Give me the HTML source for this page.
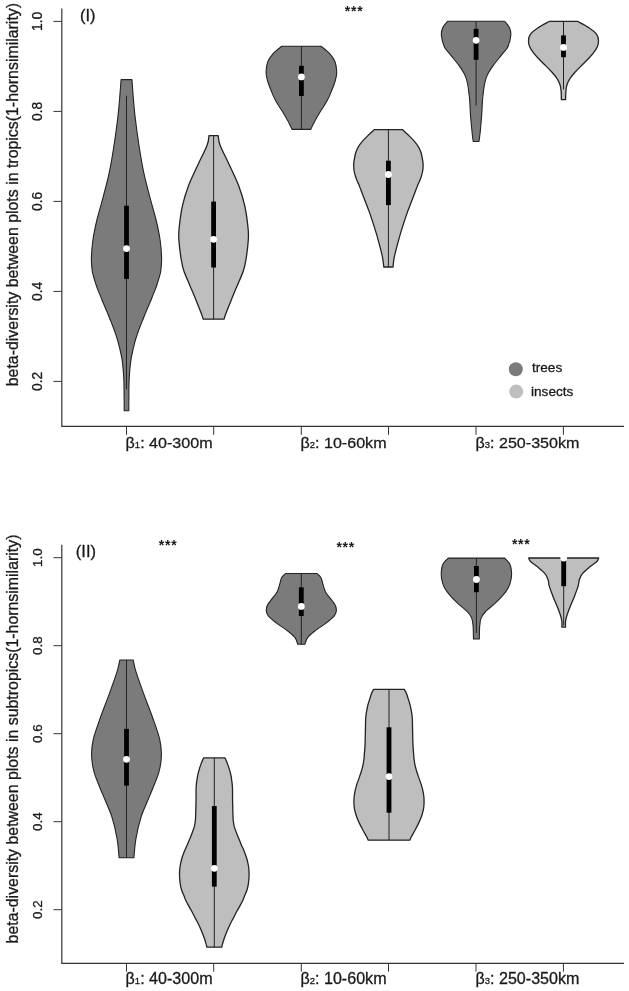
<!DOCTYPE html>
<html><head><meta charset="utf-8"><title>beta-diversity violin plots</title>
<style>
html,body{margin:0;padding:0;background:#fff}
svg{display:block}
text{font-family:"Liberation Sans",Arial,sans-serif;fill:#1a1a1a;stroke:#1a1a1a;stroke-width:0.3px}
.tk{font-size:13.8px}
.tk2{font-size:13.4px}
.yl{font-size:15.9px}
.xl{font-size:16.1px}
.sub{font-size:9.5px}
.pl{font-size:16.5px}
.st{font-size:14px;font-weight:bold;stroke:none;letter-spacing:0.75px}
.lg{font-size:13.6px}
</style></head><body>
<svg width="629" height="991" viewBox="0 0 629 991">
<rect width="629" height="991" fill="#fff"/>
<path d="M61.8 8.6V426.4H624" fill="none" stroke="#333" stroke-width="1.2"/>
<line x1="53.5" x2="61.8" y1="21.4" y2="21.4" stroke="#333" stroke-width="1"/>
<text class="tk" transform="translate(41.8 21.4) rotate(-90)" text-anchor="middle">1.0</text>
<line x1="53.5" x2="61.8" y1="111.4" y2="111.4" stroke="#333" stroke-width="1"/>
<text class="tk" transform="translate(41.8 111.4) rotate(-90)" text-anchor="middle">0.8</text>
<line x1="53.5" x2="61.8" y1="201.4" y2="201.4" stroke="#333" stroke-width="1"/>
<text class="tk" transform="translate(41.8 201.4) rotate(-90)" text-anchor="middle">0.6</text>
<line x1="53.5" x2="61.8" y1="291.4" y2="291.4" stroke="#333" stroke-width="1"/>
<text class="tk" transform="translate(41.8 291.4) rotate(-90)" text-anchor="middle">0.4</text>
<line x1="53.5" x2="61.8" y1="381.4" y2="381.4" stroke="#333" stroke-width="1"/>
<text class="tk" transform="translate(41.8 381.4) rotate(-90)" text-anchor="middle">0.2</text>
<line x1="126.5" x2="126.5" y1="426.4" y2="434.8" stroke="#333" stroke-width="1"/>
<line x1="213.7" x2="213.7" y1="426.4" y2="434.8" stroke="#333" stroke-width="1"/>
<line x1="301.3" x2="301.3" y1="426.4" y2="434.8" stroke="#333" stroke-width="1"/>
<line x1="388.5" x2="388.5" y1="426.4" y2="434.8" stroke="#333" stroke-width="1"/>
<line x1="476.0" x2="476.0" y1="426.4" y2="434.8" stroke="#333" stroke-width="1"/>
<line x1="563.4" x2="563.4" y1="426.4" y2="434.8" stroke="#333" stroke-width="1"/>
<text class="yl" transform="translate(18 194.6) rotate(-90)" text-anchor="middle">beta-diversity between plots in tropics(1-hornsimilarity)</text>
<text class="xl" transform="translate(125.6 447.9) scale(1 0.92)">β<tspan class="sub">1</tspan>: 40-300m</text>
<text class="xl" transform="translate(300.5 447.9) scale(1 0.92)">β<tspan class="sub">2</tspan>: 10-60km</text>
<text class="xl" transform="translate(475.5 447.9) scale(1 0.92)">β<tspan class="sub">3</tspan>: 250-350km</text>
<path d="M61.8 544.7V963.3H624" fill="none" stroke="#333" stroke-width="1.2"/>
<line x1="53.5" x2="61.8" y1="557.7" y2="557.7" stroke="#333" stroke-width="1"/>
<text class="tk2" transform="translate(41.6 557.7) rotate(-90)" text-anchor="middle">1.0</text>
<line x1="53.5" x2="61.8" y1="645.7" y2="645.7" stroke="#333" stroke-width="1"/>
<text class="tk2" transform="translate(41.6 645.7) rotate(-90)" text-anchor="middle">0.8</text>
<line x1="53.5" x2="61.8" y1="733.7" y2="733.7" stroke="#333" stroke-width="1"/>
<text class="tk2" transform="translate(41.6 733.7) rotate(-90)" text-anchor="middle">0.6</text>
<line x1="53.5" x2="61.8" y1="821.7" y2="821.7" stroke="#333" stroke-width="1"/>
<text class="tk2" transform="translate(41.6 821.7) rotate(-90)" text-anchor="middle">0.4</text>
<line x1="53.5" x2="61.8" y1="909.7" y2="909.7" stroke="#333" stroke-width="1"/>
<text class="tk2" transform="translate(41.6 909.7) rotate(-90)" text-anchor="middle">0.2</text>
<line x1="126.5" x2="126.5" y1="963.3" y2="971.7" stroke="#333" stroke-width="1"/>
<line x1="213.7" x2="213.7" y1="963.3" y2="971.7" stroke="#333" stroke-width="1"/>
<line x1="301.3" x2="301.3" y1="963.3" y2="971.7" stroke="#333" stroke-width="1"/>
<line x1="388.5" x2="388.5" y1="963.3" y2="971.7" stroke="#333" stroke-width="1"/>
<line x1="476.0" x2="476.0" y1="963.3" y2="971.7" stroke="#333" stroke-width="1"/>
<line x1="563.4" x2="563.4" y1="963.3" y2="971.7" stroke="#333" stroke-width="1"/>
<text class="yl" transform="translate(18 739.0) rotate(-90)" text-anchor="middle">beta-diversity between plots in subtropics(1-hornsimilarity)</text>
<text class="xl" transform="translate(125.6 983.9) scale(1 0.99)">β<tspan class="sub">1</tspan>: 40-300m</text>
<text class="xl" transform="translate(300.5 983.9) scale(1 0.99)">β<tspan class="sub">2</tspan>: 10-60km</text>
<text class="xl" transform="translate(475.5 983.9) scale(1 0.99)">β<tspan class="sub">3</tspan>: 250-350km</text>
<text class="pl" x="80" y="21">(I)</text>
<text class="pl" x="75.8" y="557">(II)</text>
<text class="st" x="344.8" y="15.9">***</text>
<text class="st" x="158.8" y="550.4">***</text>
<text class="st" x="336.4" y="551.6">***</text>
<text class="st" x="511.9" y="548.6">***</text>
<circle cx="515.8" cy="369.2" r="7" fill="#7b7b7b"/><circle cx="516.2" cy="391.6" r="7" fill="#bebebe"/>
<text class="lg" x="532" y="372.3">trees</text><text class="lg" x="531" y="395.8">insects</text>
<path d="M121.1 79.6C120.5 86.1 119.5 104.0 117.7 118.5C115.9 133.1 112.9 153.5 110.4 166.9C107.9 180.3 104.8 190.3 102.6 199.2C100.3 208.0 98.5 213.2 96.9 220.0C95.3 226.8 93.8 233.6 92.9 240.0C92.0 246.4 91.5 253.3 91.4 258.3C91.3 263.3 91.8 267.0 92.1 270.0C92.4 273.0 93.0 274.3 93.5 276.4C94.0 278.5 94.7 280.6 95.4 282.7C96.1 284.8 96.8 287.0 97.6 289.1C98.4 291.2 99.3 293.3 100.2 295.4C101.1 297.5 101.8 299.7 102.7 301.8C103.6 303.9 104.6 306.1 105.5 308.2C106.4 310.3 107.2 312.4 108.1 314.5C109.0 316.6 109.8 318.8 110.7 320.9C111.6 323.0 112.4 325.2 113.2 327.3C114.0 329.4 114.8 331.5 115.5 333.6C116.2 335.7 116.9 337.9 117.5 340.0C118.2 342.1 118.7 344.7 119.2 346.3C119.6 347.9 119.5 347.4 120.0 349.5C120.5 351.6 121.4 355.9 122.0 359.1C122.5 362.3 122.8 365.4 123.1 368.6C123.4 371.8 123.6 375.0 123.8 378.2C123.9 381.4 124.0 384.5 124.0 387.7C124.1 390.9 124.1 393.4 124.1 397.3C124.2 401.2 124.2 408.6 124.2 410.8L128.8 410.8C128.8 408.6 128.8 401.2 128.9 397.3C128.9 393.4 128.9 390.9 128.9 387.7C129.0 384.5 129.1 381.4 129.2 378.2C129.4 375.0 129.6 371.8 129.9 368.6C130.2 365.4 130.5 362.3 131.1 359.1C131.6 355.9 132.5 351.6 133.0 349.5C133.5 347.4 133.4 347.9 133.8 346.3C134.3 344.7 134.8 342.1 135.4 340.0C136.1 337.9 136.8 335.7 137.5 333.6C138.2 331.5 139.0 329.4 139.8 327.3C140.6 325.2 141.5 323.0 142.3 320.9C143.2 318.8 144.0 316.6 144.9 314.5C145.8 312.4 146.6 310.3 147.5 308.2C148.4 306.1 149.4 303.9 150.3 301.8C151.2 299.7 152.0 297.5 152.8 295.4C153.7 293.3 154.6 291.2 155.4 289.1C156.2 287.0 156.9 284.8 157.6 282.7C158.3 280.6 158.9 278.5 159.5 276.4C160.1 274.3 160.6 273.0 160.9 270.0C161.2 267.0 161.7 263.3 161.6 258.3C161.5 253.3 161.0 246.4 160.1 240.0C159.2 233.6 157.7 226.8 156.1 220.0C154.5 213.2 152.7 208.0 150.4 199.2C148.2 190.3 145.1 180.3 142.6 166.9C140.1 153.5 137.1 133.1 135.3 118.5C133.5 104.0 132.5 86.1 131.9 79.6Z" fill="#7b7b7b" stroke="#222" stroke-width="1.1" stroke-linejoin="round"/>
<line x1="126.5" y1="95.8" x2="126.5" y2="389.3" stroke="#222" stroke-width="1"/>
<rect x="124.1" y="205.7" width="4.8" height="73.2" fill="#000"/>
<circle cx="126.5" cy="248.6" r="3.4" fill="#fff"/>
<path d="M209.0 135.7C208.7 137.3 209.0 140.3 207.1 145.2C205.2 150.1 200.8 158.6 197.7 165.3C194.6 172.0 191.1 178.8 188.6 185.5C186.1 192.2 184.0 198.9 182.5 205.6C181.0 212.3 180.0 220.1 179.4 225.8C178.8 231.5 178.4 233.2 178.9 239.9C179.4 246.6 181.0 259.2 182.5 266.1C184.0 273.0 186.3 276.8 188.0 281.1C189.7 285.5 191.2 288.5 192.8 292.2C194.3 295.9 195.8 299.7 197.3 303.4C198.8 307.1 200.7 311.9 201.7 314.5C202.7 317.1 202.9 318.4 203.1 319.2L224.1 319.2C224.3 318.4 224.5 317.1 225.5 314.5C226.5 311.9 228.4 307.1 229.9 303.4C231.4 299.7 232.9 295.9 234.4 292.2C235.9 288.5 237.5 285.5 239.2 281.1C240.9 276.8 243.2 273.0 244.7 266.1C246.2 259.2 247.8 246.6 248.3 239.9C248.8 233.2 248.4 231.5 247.8 225.8C247.2 220.1 246.2 212.3 244.7 205.6C243.2 198.9 241.1 192.2 238.6 185.5C236.1 178.8 232.6 172.0 229.5 165.3C226.4 158.6 222.0 150.1 220.1 145.2C218.2 140.3 218.5 137.3 218.2 135.7Z" fill="#bebebe" stroke="#222" stroke-width="1.3" stroke-linejoin="round"/>
<line x1="213.6" y1="135.7" x2="213.6" y2="319.2" stroke="#222" stroke-width="1"/>
<rect x="211.2" y="201.6" width="4.8" height="65.9" fill="#000"/>
<circle cx="213.6" cy="239.3" r="3.4" fill="#fff"/>
<path d="M281.8 46.3C280.3 47.5 275.2 51.2 272.9 53.8C270.6 56.4 268.9 58.9 267.8 61.8C266.7 64.7 266.3 68.6 266.1 71.3C265.9 74.0 266.4 75.6 266.8 77.7C267.2 79.8 267.9 82.0 268.6 84.0C269.3 86.0 270.1 88.1 270.9 90.0C271.7 91.9 272.4 93.8 273.2 95.6C274.0 97.4 274.9 99.2 275.9 101.1C276.9 102.9 278.1 104.8 279.3 106.7C280.5 108.6 281.8 110.4 282.9 112.2C284.0 114.0 285.0 115.9 286.1 117.8C287.1 119.7 288.2 121.5 289.2 123.4C290.2 125.3 291.6 128.4 292.0 129.4L310.8 129.4C311.2 128.4 312.6 125.3 313.6 123.4C314.6 121.5 315.6 119.7 316.7 117.8C317.8 115.9 318.8 114.0 319.9 112.2C321.0 110.4 322.3 108.6 323.5 106.7C324.7 104.8 325.9 102.9 326.9 101.1C327.9 99.2 328.8 97.4 329.6 95.6C330.4 93.8 331.1 91.9 331.9 90.0C332.7 88.1 333.5 86.0 334.2 84.0C334.9 82.0 335.6 79.8 336.0 77.7C336.4 75.6 336.9 74.0 336.7 71.3C336.5 68.6 336.1 64.7 335.0 61.8C333.9 58.9 332.2 56.4 329.9 53.8C327.6 51.2 322.5 47.5 321.0 46.3Z" fill="#7b7b7b" stroke="#222" stroke-width="1.1" stroke-linejoin="round"/>
<line x1="301.4" y1="46.3" x2="301.4" y2="129.4" stroke="#222" stroke-width="1"/>
<rect x="299.0" y="65.8" width="4.8" height="30.2" fill="#000"/>
<circle cx="301.4" cy="76.9" r="3.4" fill="#fff"/>
<path d="M374.6 129.6C373.4 130.7 369.5 134.1 367.4 136.1C365.3 138.1 363.6 139.8 362.1 141.7C360.6 143.5 359.3 145.3 358.2 147.2C357.1 149.0 356.3 150.9 355.7 152.8C355.1 154.7 354.8 156.6 354.5 158.4C354.2 160.2 353.8 162.1 353.7 163.9C353.6 165.8 353.7 167.6 353.9 169.5C354.1 171.4 354.6 173.2 355.1 175.1C355.6 176.9 356.4 178.9 357.0 180.6C357.6 182.2 358.0 182.5 359.0 185.0C360.0 187.5 361.4 191.3 363.1 195.8C364.8 200.3 367.4 206.5 369.3 211.9C371.2 217.3 373.0 222.7 374.7 228.1C376.4 233.5 378.0 239.3 379.3 244.2C380.6 249.0 381.8 253.4 382.5 257.2C383.2 261.0 383.6 265.4 383.8 267.0L393.0 267.0C393.2 265.4 393.5 261.0 394.3 257.2C395.0 253.4 396.2 249.0 397.5 244.2C398.8 239.3 400.4 233.5 402.1 228.1C403.8 222.7 405.6 217.3 407.5 211.9C409.4 206.5 412.0 200.3 413.7 195.8C415.4 191.3 416.8 187.5 417.8 185.0C418.8 182.5 419.1 182.2 419.8 180.6C420.4 178.9 421.2 176.9 421.7 175.1C422.2 173.2 422.7 171.4 422.9 169.5C423.1 167.6 423.2 165.8 423.1 163.9C423.0 162.1 422.6 160.2 422.3 158.4C422.0 156.6 421.7 154.7 421.1 152.8C420.5 150.9 419.7 149.0 418.6 147.2C417.5 145.3 416.2 143.5 414.7 141.7C413.2 139.8 411.5 138.1 409.4 136.1C407.3 134.1 403.4 130.7 402.2 129.6Z" fill="#bebebe" stroke="#222" stroke-width="1.3" stroke-linejoin="round"/>
<line x1="388.4" y1="129.6" x2="388.4" y2="267.0" stroke="#222" stroke-width="1"/>
<rect x="386.0" y="160.7" width="4.8" height="44.4" fill="#000"/>
<circle cx="388.4" cy="174.5" r="3.4" fill="#fff"/>
<path d="M447.6 21.3C446.8 22.4 443.7 25.4 442.7 27.7C441.7 30.0 441.1 32.2 441.4 35.4C441.7 38.6 443.0 43.8 444.3 46.8C445.6 49.8 447.5 51.1 449.2 53.2C450.9 55.3 452.6 57.4 454.3 59.5C456.0 61.6 457.8 63.8 459.3 65.9C460.8 68.0 462.2 70.2 463.4 72.3C464.6 74.4 465.6 76.5 466.3 78.6C467.0 80.7 467.4 82.9 467.8 85.0C468.2 87.1 468.4 88.7 468.7 91.3C469.0 93.9 469.4 96.2 469.7 100.4C470.0 104.6 470.2 111.0 470.6 116.3C471.0 121.6 471.6 128.0 472.1 132.2C472.5 136.4 473.0 139.9 473.2 141.5L479.0 141.5C479.2 139.9 479.7 136.4 480.2 132.2C480.6 128.0 481.2 121.6 481.6 116.3C482.0 111.0 482.2 104.6 482.5 100.4C482.8 96.2 483.2 93.9 483.5 91.3C483.8 88.7 484.0 87.1 484.4 85.0C484.8 82.9 485.2 80.7 485.9 78.6C486.6 76.5 487.6 74.4 488.8 72.3C490.0 70.2 491.4 68.0 492.9 65.9C494.4 63.8 496.2 61.6 497.9 59.5C499.6 57.4 501.3 55.3 503.0 53.2C504.7 51.1 506.6 49.8 507.9 46.8C509.2 43.8 510.5 38.6 510.8 35.4C511.1 32.2 510.5 30.0 509.5 27.7C508.5 25.4 505.4 22.4 504.6 21.3Z" fill="#7b7b7b" stroke="#222" stroke-width="1.1" stroke-linejoin="round"/>
<line x1="476.1" y1="21.3" x2="476.1" y2="105.5" stroke="#222" stroke-width="1"/>
<rect x="473.7" y="28.8" width="4.8" height="31.0" fill="#000"/>
<circle cx="476.1" cy="40.3" r="3.4" fill="#fff"/>
<path d="M549.6 21.3C547.7 22.4 541.3 25.6 538.1 27.7C534.9 29.8 532.1 32.0 530.5 34.1C528.9 36.2 528.6 38.3 528.5 40.4C528.4 42.5 528.8 44.7 529.7 46.8C530.6 48.9 532.1 51.1 533.7 53.2C535.3 55.3 537.4 57.4 539.4 59.5C541.4 61.6 543.7 63.8 545.8 65.9C547.9 68.0 550.1 70.2 552.0 72.3C553.9 74.4 555.8 76.5 557.1 78.6C558.5 80.7 559.4 82.9 560.1 85.0C560.8 87.1 560.9 88.8 561.1 91.3C561.3 93.8 561.4 98.3 561.4 99.7L565.6 99.7C565.6 98.3 565.7 93.8 565.9 91.3C566.1 88.8 566.2 87.1 566.9 85.0C567.6 82.9 568.5 80.7 569.9 78.6C571.2 76.5 573.1 74.4 575.0 72.3C576.9 70.2 579.1 68.0 581.2 65.9C583.3 63.8 585.6 61.6 587.6 59.5C589.6 57.4 591.7 55.3 593.3 53.2C594.9 51.1 596.4 48.9 597.3 46.8C598.2 44.7 598.6 42.5 598.5 40.4C598.4 38.3 598.1 36.2 596.5 34.1C594.9 32.0 592.1 29.8 588.9 27.7C585.7 25.6 579.3 22.4 577.4 21.3Z" fill="#bebebe" stroke="#222" stroke-width="1.3" stroke-linejoin="round"/>
<line x1="563.5" y1="21.3" x2="563.5" y2="89.3" stroke="#222" stroke-width="1"/>
<rect x="561.1" y="35.4" width="4.8" height="21.8" fill="#000"/>
<circle cx="563.5" cy="47.4" r="3.4" fill="#fff"/>
<path d="M119.8 660.0C119.3 662.0 118.7 666.5 116.9 672.2C115.1 677.9 111.8 687.0 109.1 694.4C106.4 701.8 103.3 709.3 100.7 716.7C98.1 724.1 94.9 732.6 93.4 738.9C91.9 745.2 91.5 748.8 91.6 754.4C91.7 760.0 92.2 765.5 94.1 772.2C95.9 778.9 99.8 787.0 102.7 794.4C105.7 801.8 109.4 809.3 111.8 816.7C114.2 824.1 115.9 832.0 117.1 838.9C118.3 845.8 118.8 854.6 119.1 857.8L133.9 857.8C134.2 854.6 134.7 845.8 135.9 838.9C137.1 832.0 138.8 824.1 141.2 816.7C143.6 809.3 147.4 801.8 150.3 794.4C153.2 787.0 157.1 778.9 158.9 772.2C160.8 765.5 161.3 760.0 161.4 754.4C161.5 748.8 161.1 745.2 159.6 738.9C158.1 732.6 154.9 724.1 152.3 716.7C149.7 709.3 146.6 701.8 143.9 694.4C141.2 687.0 137.9 677.9 136.1 672.2C134.3 666.5 133.7 662.0 133.2 660.0Z" fill="#7b7b7b" stroke="#222" stroke-width="1.1" stroke-linejoin="round"/>
<line x1="126.5" y1="660.0" x2="126.5" y2="857.8" stroke="#222" stroke-width="1"/>
<rect x="124.1" y="728.9" width="4.8" height="56.7" fill="#000"/>
<circle cx="126.5" cy="759.3" r="3.4" fill="#fff"/>
<path d="M203.6 757.9C203.3 758.7 202.2 760.8 201.5 762.7C200.8 764.6 199.9 767.0 199.3 769.1C198.7 771.2 198.1 773.3 197.7 775.4C197.2 777.5 197.0 779.7 196.7 781.8C196.4 783.9 196.2 785.0 196.1 788.2C196.0 791.4 196.1 796.7 196.0 800.9C195.9 805.1 195.8 810.4 195.7 813.6C195.6 816.8 195.6 817.9 195.4 820.0C195.2 822.1 194.9 824.3 194.4 826.4C193.8 828.5 193.0 830.6 192.2 832.7C191.4 834.8 190.5 837.0 189.7 839.1C188.8 841.2 187.9 843.3 187.0 845.4C186.1 847.5 185.1 849.7 184.2 851.8C183.4 853.9 182.5 856.1 181.9 858.2C181.3 860.3 180.8 862.4 180.4 864.5C180.0 866.6 179.7 868.8 179.6 870.9C179.5 873.0 179.5 875.2 179.6 877.3C179.7 879.4 179.9 881.5 180.2 883.6C180.5 885.7 180.9 887.9 181.6 890.0C182.3 892.1 183.6 894.7 184.2 896.3C184.8 897.9 184.7 898.0 185.4 899.5C186.1 901.0 187.3 903.4 188.4 905.4C189.5 907.4 190.8 909.7 192.0 911.8C193.2 913.9 194.2 916.1 195.3 918.2C196.4 920.3 197.6 922.4 198.6 924.5C199.6 926.6 200.6 928.8 201.5 930.9C202.4 933.0 203.2 935.2 204.0 937.3C204.8 939.4 205.5 942.0 206.0 943.6C206.5 945.2 206.7 946.6 206.9 947.2L221.8 947.2C221.9 946.6 222.1 945.2 222.6 943.6C223.1 942.0 223.9 939.4 224.6 937.3C225.4 935.2 226.2 933.0 227.1 930.9C228.0 928.8 229.0 926.6 230.0 924.5C231.0 922.4 232.2 920.3 233.3 918.2C234.4 916.1 235.5 913.9 236.6 911.8C237.8 909.7 239.1 907.4 240.2 905.4C241.3 903.4 242.5 901.0 243.2 899.5C243.9 898.0 243.8 897.9 244.4 896.3C245.0 894.7 246.3 892.1 247.0 890.0C247.7 887.9 248.1 885.7 248.4 883.6C248.7 881.5 248.9 879.4 249.0 877.3C249.1 875.2 249.1 873.0 249.0 870.9C248.9 868.8 248.6 866.6 248.2 864.5C247.8 862.4 247.3 860.3 246.7 858.2C246.1 856.1 245.2 853.9 244.4 851.8C243.6 849.7 242.5 847.5 241.6 845.4C240.7 843.3 239.8 841.2 239.0 839.1C238.1 837.0 237.2 834.8 236.4 832.7C235.6 830.6 234.8 828.5 234.2 826.4C233.7 824.3 233.4 822.1 233.2 820.0C233.0 817.9 233.0 816.8 232.9 813.6C232.8 810.4 232.7 805.1 232.6 800.9C232.5 796.7 232.6 791.4 232.5 788.2C232.4 785.0 232.2 783.9 231.9 781.8C231.6 779.7 231.4 777.5 231.0 775.4C230.5 773.3 229.9 771.2 229.3 769.1C228.7 767.0 227.8 764.6 227.1 762.7C226.4 760.8 225.3 758.7 225.0 757.9Z" fill="#bebebe" stroke="#222" stroke-width="1.3" stroke-linejoin="round"/>
<line x1="214.3" y1="757.9" x2="214.3" y2="947.2" stroke="#222" stroke-width="1"/>
<rect x="211.9" y="806.0" width="4.8" height="80.6" fill="#000"/>
<circle cx="214.3" cy="868.3" r="3.4" fill="#fff"/>
<path d="M285.6 573.5C285.0 574.2 282.7 575.8 281.7 577.5C280.7 579.2 280.6 581.4 279.8 583.8C279.1 586.2 278.4 589.4 277.2 591.8C276.0 594.2 274.1 596.1 272.5 598.2C270.9 600.3 268.8 602.5 267.7 604.5C266.6 606.5 266.1 608.2 266.2 610.1C266.3 612.0 266.3 613.4 268.1 615.6C269.9 617.9 273.8 621.0 277.2 623.6C280.6 626.2 285.4 629.1 288.4 631.5C291.4 633.9 293.6 635.8 295.2 637.9C296.8 640.0 297.3 643.2 297.7 644.3L304.9 644.3C305.3 643.2 305.9 640.0 307.4 637.9C309.0 635.8 311.2 633.9 314.2 631.5C317.2 629.1 322.0 626.2 325.4 623.6C328.8 621.0 332.7 617.9 334.5 615.6C336.3 613.4 336.3 612.0 336.4 610.1C336.5 608.2 336.0 606.5 334.9 604.5C333.9 602.5 331.7 600.3 330.1 598.2C328.5 596.1 326.6 594.2 325.4 591.8C324.2 589.4 323.6 586.2 322.8 583.8C322.1 581.4 321.9 579.2 320.9 577.5C319.9 575.8 317.6 574.2 317.0 573.5Z" fill="#7b7b7b" stroke="#222" stroke-width="1.1" stroke-linejoin="round"/>
<line x1="301.3" y1="573.5" x2="301.3" y2="644.3" stroke="#222" stroke-width="1"/>
<rect x="298.9" y="587.3" width="4.8" height="28.7" fill="#000"/>
<circle cx="301.3" cy="606.4" r="3.4" fill="#fff"/>
<path d="M373.7 689.3C373.4 689.9 372.5 691.1 371.8 692.7C371.1 694.3 370.4 697.0 369.7 699.1C369.0 701.2 368.3 703.3 367.8 705.4C367.3 707.5 366.9 709.7 366.5 711.8C366.1 713.9 365.9 715.0 365.7 718.2C365.5 721.4 365.5 726.7 365.4 730.9C365.3 735.1 365.2 739.4 365.1 743.6C364.9 747.8 364.4 753.6 364.2 756.3C364.0 759.0 364.1 758.3 363.8 760.0C363.6 761.7 363.2 764.3 362.7 766.4C362.2 768.5 361.6 770.6 360.9 772.7C360.2 774.8 359.4 777.0 358.7 779.1C358.0 781.2 357.1 783.3 356.5 785.4C355.9 787.5 355.3 789.7 354.9 791.8C354.5 793.9 354.1 796.1 354.0 798.2C353.9 800.3 353.9 802.4 354.0 804.5C354.1 806.6 354.4 808.8 354.9 810.9C355.4 813.0 356.0 815.2 356.8 817.3C357.6 819.4 358.6 821.5 359.6 823.6C360.6 825.7 361.8 827.9 362.9 830.0C364.0 832.1 365.5 834.6 366.4 836.3C367.3 838.0 367.9 839.6 368.2 840.2L409.8 840.2C410.1 839.6 410.7 838.0 411.6 836.3C412.5 834.6 414.0 832.1 415.1 830.0C416.2 827.9 417.4 825.7 418.4 823.6C419.4 821.5 420.4 819.4 421.2 817.3C422.0 815.2 422.6 813.0 423.1 810.9C423.6 808.8 423.9 806.6 424.0 804.5C424.1 802.4 424.1 800.3 424.0 798.2C423.9 796.1 423.5 793.9 423.1 791.8C422.7 789.7 422.1 787.5 421.5 785.4C420.9 783.3 420.0 781.2 419.3 779.1C418.6 777.0 417.8 774.8 417.1 772.7C416.4 770.6 415.8 768.5 415.3 766.4C414.8 764.3 414.4 761.7 414.2 760.0C413.9 758.3 414.0 759.0 413.8 756.3C413.6 753.6 413.1 747.8 412.9 743.6C412.8 739.4 412.7 735.1 412.6 730.9C412.5 726.7 412.5 721.4 412.3 718.2C412.1 715.0 411.9 713.9 411.5 711.8C411.1 709.7 410.7 707.5 410.2 705.4C409.7 703.3 409.0 701.2 408.3 699.1C407.6 697.0 406.9 694.3 406.2 692.7C405.5 691.1 404.6 689.9 404.3 689.3Z" fill="#bebebe" stroke="#222" stroke-width="1.3" stroke-linejoin="round"/>
<line x1="389.0" y1="689.3" x2="389.0" y2="840.2" stroke="#222" stroke-width="1"/>
<rect x="386.6" y="727.3" width="4.8" height="85.4" fill="#000"/>
<circle cx="389.0" cy="776.6" r="3.4" fill="#fff"/>
<path d="M448.2 558.1C447.3 559.0 444.2 561.5 443.1 563.8C441.9 566.1 441.5 569.1 441.3 571.8C441.1 574.4 441.3 577.1 441.8 579.7C442.3 582.4 443.1 585.1 444.5 587.7C445.9 590.4 447.9 593.0 450.2 595.6C452.5 598.2 455.3 601.0 458.1 603.6C460.9 606.2 464.9 609.1 467.2 611.5C469.4 613.9 470.6 615.5 471.6 617.9C472.6 620.3 472.8 622.4 473.1 625.9C473.4 629.4 473.4 636.8 473.5 639.0L479.3 639.0C479.4 636.8 479.4 629.4 479.7 625.9C480.0 622.4 480.2 620.3 481.2 617.9C482.2 615.5 483.3 613.9 485.6 611.5C487.8 609.1 491.9 606.2 494.7 603.6C497.5 601.0 500.3 598.2 502.6 595.6C504.9 593.0 506.9 590.4 508.3 587.7C509.7 585.1 510.5 582.4 511.0 579.7C511.5 577.1 511.7 574.4 511.5 571.8C511.3 569.1 510.9 566.1 509.7 563.8C508.5 561.5 505.4 559.0 504.6 558.1Z" fill="#7b7b7b" stroke="#222" stroke-width="1.1" stroke-linejoin="round"/>
<line x1="476.4" y1="558.1" x2="476.4" y2="633.0" stroke="#222" stroke-width="1"/>
<rect x="474.0" y="566.0" width="4.8" height="26.2" fill="#000"/>
<circle cx="476.4" cy="579.5" r="3.4" fill="#fff"/>
<path d="M528.7 558.0C529.0 558.5 528.8 559.7 530.3 561.2C531.8 562.7 535.1 564.8 537.5 566.8C539.9 568.8 542.9 571.1 544.6 573.2C546.4 575.3 547.2 577.4 548.0 579.5C548.8 581.6 548.4 583.2 549.2 585.9C550.0 588.5 551.4 592.2 552.6 595.4C553.8 598.6 555.3 601.8 556.6 605.0C557.9 608.2 559.3 611.9 560.2 614.5C561.1 617.1 561.5 618.8 561.8 620.9C562.1 623.0 561.9 626.2 561.9 627.2L565.5 627.2C565.5 626.2 565.3 623.0 565.6 620.9C565.9 618.8 566.3 617.1 567.2 614.5C568.1 611.9 569.5 608.2 570.8 605.0C572.1 601.8 573.6 598.6 574.8 595.4C576.0 592.2 577.4 588.5 578.2 585.9C579.0 583.2 578.6 581.6 579.4 579.5C580.2 577.4 581.1 575.3 582.8 573.2C584.6 571.1 587.5 568.8 589.9 566.8C592.3 564.8 595.6 562.7 597.1 561.2C598.6 559.7 598.4 558.5 598.7 558.0Z" fill="#bebebe" stroke="#222" stroke-width="1.3" stroke-linejoin="round"/>
<line x1="563.7" y1="558.0" x2="563.7" y2="625.6" stroke="#222" stroke-width="1"/>
<rect x="561.3" y="558.0" width="4.8" height="28.2" fill="#000"/>
<circle cx="563.7" cy="558.0" r="3.4" fill="#fff"/>
</svg>
</body></html>
